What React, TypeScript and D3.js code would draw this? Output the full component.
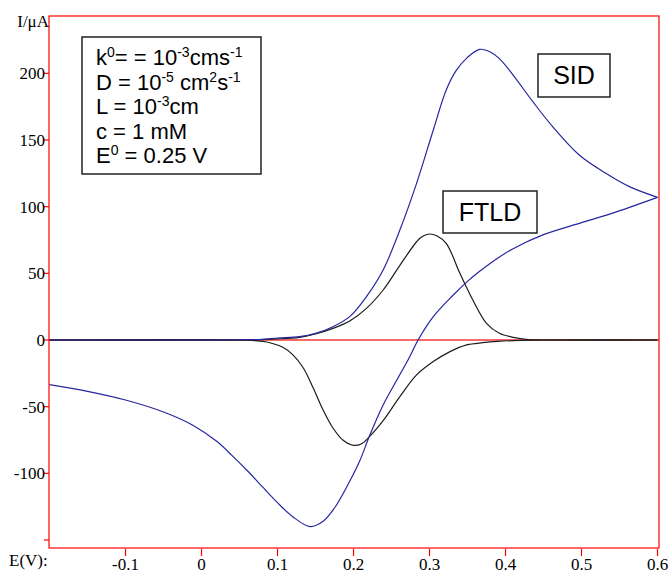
import React, { useEffect, useRef } from "react";
import * as d3 from "d3";

// SID sweep, forward (lower) branch
const sidFwdE = [-0.2, -0.15, -0.1, -0.05, -0.012, 0.02, 0.04, 0.062, 0.08, 0.1, 0.12, 0.143, 0.16, 0.175, 0.195, 0.208, 0.221, 0.239, 0.257, 0.274, 0.285, 0.305, 0.33, 0.35, 0.366, 0.39, 0.41, 0.45, 0.5, 0.54, 0.6];
const sidFwdI = [-33.5, -38.5, -45, -54, -63.7, -76, -86.5, -99, -110, -122, -132.5, -140, -136, -126, -106, -91, -72, -48.7, -30, -12.5, 0, 17.5, 33, 44, 51.5, 61.5, 68.5, 79, 88, 95, 107];
// SID sweep, reverse (upper) branch
const sidRevE = [0.6, 0.563, 0.532, 0.497, 0.462, 0.436, 0.41, 0.392, 0.38, 0.366, 0.35, 0.335, 0.322, 0.305, 0.283, 0.261, 0.239, 0.217, 0.195, 0.173, 0.15, 0.129, 0.1, 0.08, 0.05, 0, -0.1, -0.2];
const sidRevI = [107, 115, 125, 138.7, 160, 178.7, 198.7, 211, 216, 218, 212, 202, 187.5, 157.5, 117.5, 82.5, 52.5, 32.5, 17.5, 10, 5, 2.5, 1.5, 0.5, 0.2, 0, 0, 0];
// FTLD forward (reduction) branch
const ftldFwdE = [-0.2, 0.05, 0.07, 0.086, 0.107, 0.12, 0.134, 0.147, 0.16, 0.173, 0.186, 0.2, 0.21, 0.221, 0.239, 0.261, 0.283, 0.305, 0.327, 0.349, 0.37, 0.39, 0.41, 0.45, 0.6];
const ftldFwdI = [0, 0, -0.5, -1.5, -5.5, -11, -21, -36, -52.5, -66, -75, -79, -78, -72.5, -60.5, -42.5, -26.2, -16.2, -8.7, -3.7, -2, -1, -0.5, 0, 0];
// FTLD reverse (oxidation) branch
const ftldRevE = [0.6, 0.45, 0.43, 0.41, 0.392, 0.375, 0.357, 0.34, 0.322, 0.31, 0.3, 0.29, 0.283, 0.261, 0.239, 0.217, 0.195, 0.173, 0.15, 0.129, 0.1, 0.05, -0.2];
const ftldRevI = [0, 0, 0.3, 2, 5, 12.5, 30, 50, 72.5, 78, 79.5, 77.5, 73.7, 56, 37.5, 23.7, 14.2, 8.7, 4.5, 2, 0.8, 0, 0];

const xTicks = [-0.1, 0, 0.1, 0.2, 0.3, 0.4, 0.5, 0.6];
const yTicks = [-150, -100, -50, 0, 50, 100, 150, 200];
const yLabels = [-100, -50, 0, 50, 100, 150, 200];

const App = () => {
  const ref = useRef<SVGSVGElement>(null);

  useEffect(() => {
    const svg = d3.select(ref.current);
    svg.selectAll("*").remove();

    const x = d3.scaleLinear().domain([-0.2, 0.6]).range([49.5, 657.5]);
    const y = d3.scaleLinear().domain([-156, 243]).range([548, 16]);
    const serif = "'Liberation Serif', serif";
    const sans = "'Liberation Sans', Arial, sans-serif";

    // zero line
    svg.append("line")
      .attr("x1", 49).attr("x2", 659)
      .attr("y1", y(0)).attr("y2", y(0))
      .attr("stroke", "#f26a6a").attr("stroke-width", 2);

    const line = d3.line<[number, number]>()
      .x(d => x(d[0]))
      .y(d => y(d[1]))
      .curve(d3.curveCatmullRom.alpha(0.5));

    const series = [
      { e: ftldFwdE, i: ftldFwdI, color: "#1c1c1c" },
      { e: ftldRevE, i: ftldRevI, color: "#1c1c1c" },
      { e: sidFwdE, i: sidFwdI, color: "#2626a0" },
      { e: sidRevE, i: sidRevI, color: "#2626a0" },
    ];
    series.forEach(s => {
      svg.append("path")
        .datum(s.e.map((e, k) => [e, s.i[k]] as [number, number]))
        .attr("fill", "none")
        .attr("stroke", s.color)
        .attr("stroke-width", 1.2)
        .attr("d", line);
    });

    // frame
    svg.append("rect")
      .attr("x", 49).attr("y", 16)
      .attr("width", 610).attr("height", 532)
      .attr("fill", "none").attr("stroke", "#ff0000").attr("stroke-width", 1.2);

    // y ticks
    svg.selectAll(".yt").data(yTicks).enter().append("line")
      .attr("x1", 44).attr("x2", 49)
      .attr("y1", d => y(d)).attr("y2", d => y(d))
      .attr("stroke", "#ff0000").attr("stroke-width", 1.2);
    svg.selectAll(".yl").data(yLabels).enter().append("text")
      .attr("x", 45).attr("y", d => y(d) + 6)
      .attr("text-anchor", "end")
      .style("font-family", serif).style("font-size", "17px")
      .text(d => d);

    // x ticks
    svg.selectAll(".xt").data(xTicks).enter().append("line")
      .attr("x1", d => x(d)).attr("x2", d => x(d))
      .attr("y1", 549).attr("y2", 556)
      .attr("stroke", "#ff0000").attr("stroke-width", 1.2);
    svg.selectAll(".xl").data(xTicks).enter().append("text")
      .attr("x", d => x(d)).attr("y", 570)
      .attr("text-anchor", "middle")
      .style("font-family", serif).style("font-size", "17px")
      .text(d => d);

    svg.append("text").attr("x", 49).attr("y", 27).attr("text-anchor", "end")
      .style("font-family", serif).style("font-size", "17px").text("I/μA");
    svg.append("text").attr("x", 9).attr("y", 566)
      .style("font-family", serif).style("font-size", "17px").text("E(V):");

    // parameter box
    svg.append("rect").attr("x", 82).attr("y", 37).attr("width", 179).attr("height", 137)
      .attr("fill", "white").attr("stroke", "#222").attr("stroke-width", 1.5);
    const lines: [string, boolean][][] = [
      [["k", false], ["0", true], ["= = 10", false], ["-3", true], ["cms", false], ["-1", true]],
      [["D = 10", false], ["-5", true], [" cm", false], ["2", true], ["s", false], ["-1", true]],
      [["L = 10", false], ["-3", true], ["cm", false]],
      [["c = 1 mM", false]],
      [["E", false], ["0", true], [" = 0.25 V", false]],
    ];
    lines.forEach((parts, r) => {
      const t = svg.append("text")
        .attr("x", 96).attr("y", 65 + r * 24.5)
        .attr("xml:space", "preserve")
        .style("font-family", sans).style("font-size", "22px").style("white-space", "pre");
      let up = false;
      parts.forEach(([s, sup]) => {
        const dy = sup && !up ? -8 : !sup && up ? 8 : 0;
        t.append("tspan")
          .attr("dy", dy)
          .style("font-size", sup ? "14px" : "22px")
          .text(s);
        up = sup;
      });
    });

    // curve labels
    const tags = [
      { label: "SID", x: 538, y: 54, w: 72, h: 43 },
      { label: "FTLD", x: 443, y: 191, w: 94, h: 42 },
    ];
    tags.forEach(t => {
      svg.append("rect").attr("x", t.x).attr("y", t.y).attr("width", t.w).attr("height", t.h)
        .attr("fill", "white").attr("stroke", "#222").attr("stroke-width", 1.5);
      svg.append("text").attr("x", t.x + t.w / 2).attr("y", t.y + 30)
        .attr("text-anchor", "middle")
        .style("font-family", sans).style("font-size", "25px").text(t.label);
    });
  }, []);

  return (
    <svg ref={ref} width={671} height={575}
      style={{ position: "absolute", left: 0, top: 0, background: "white" }} />
  );
};

export default App;
